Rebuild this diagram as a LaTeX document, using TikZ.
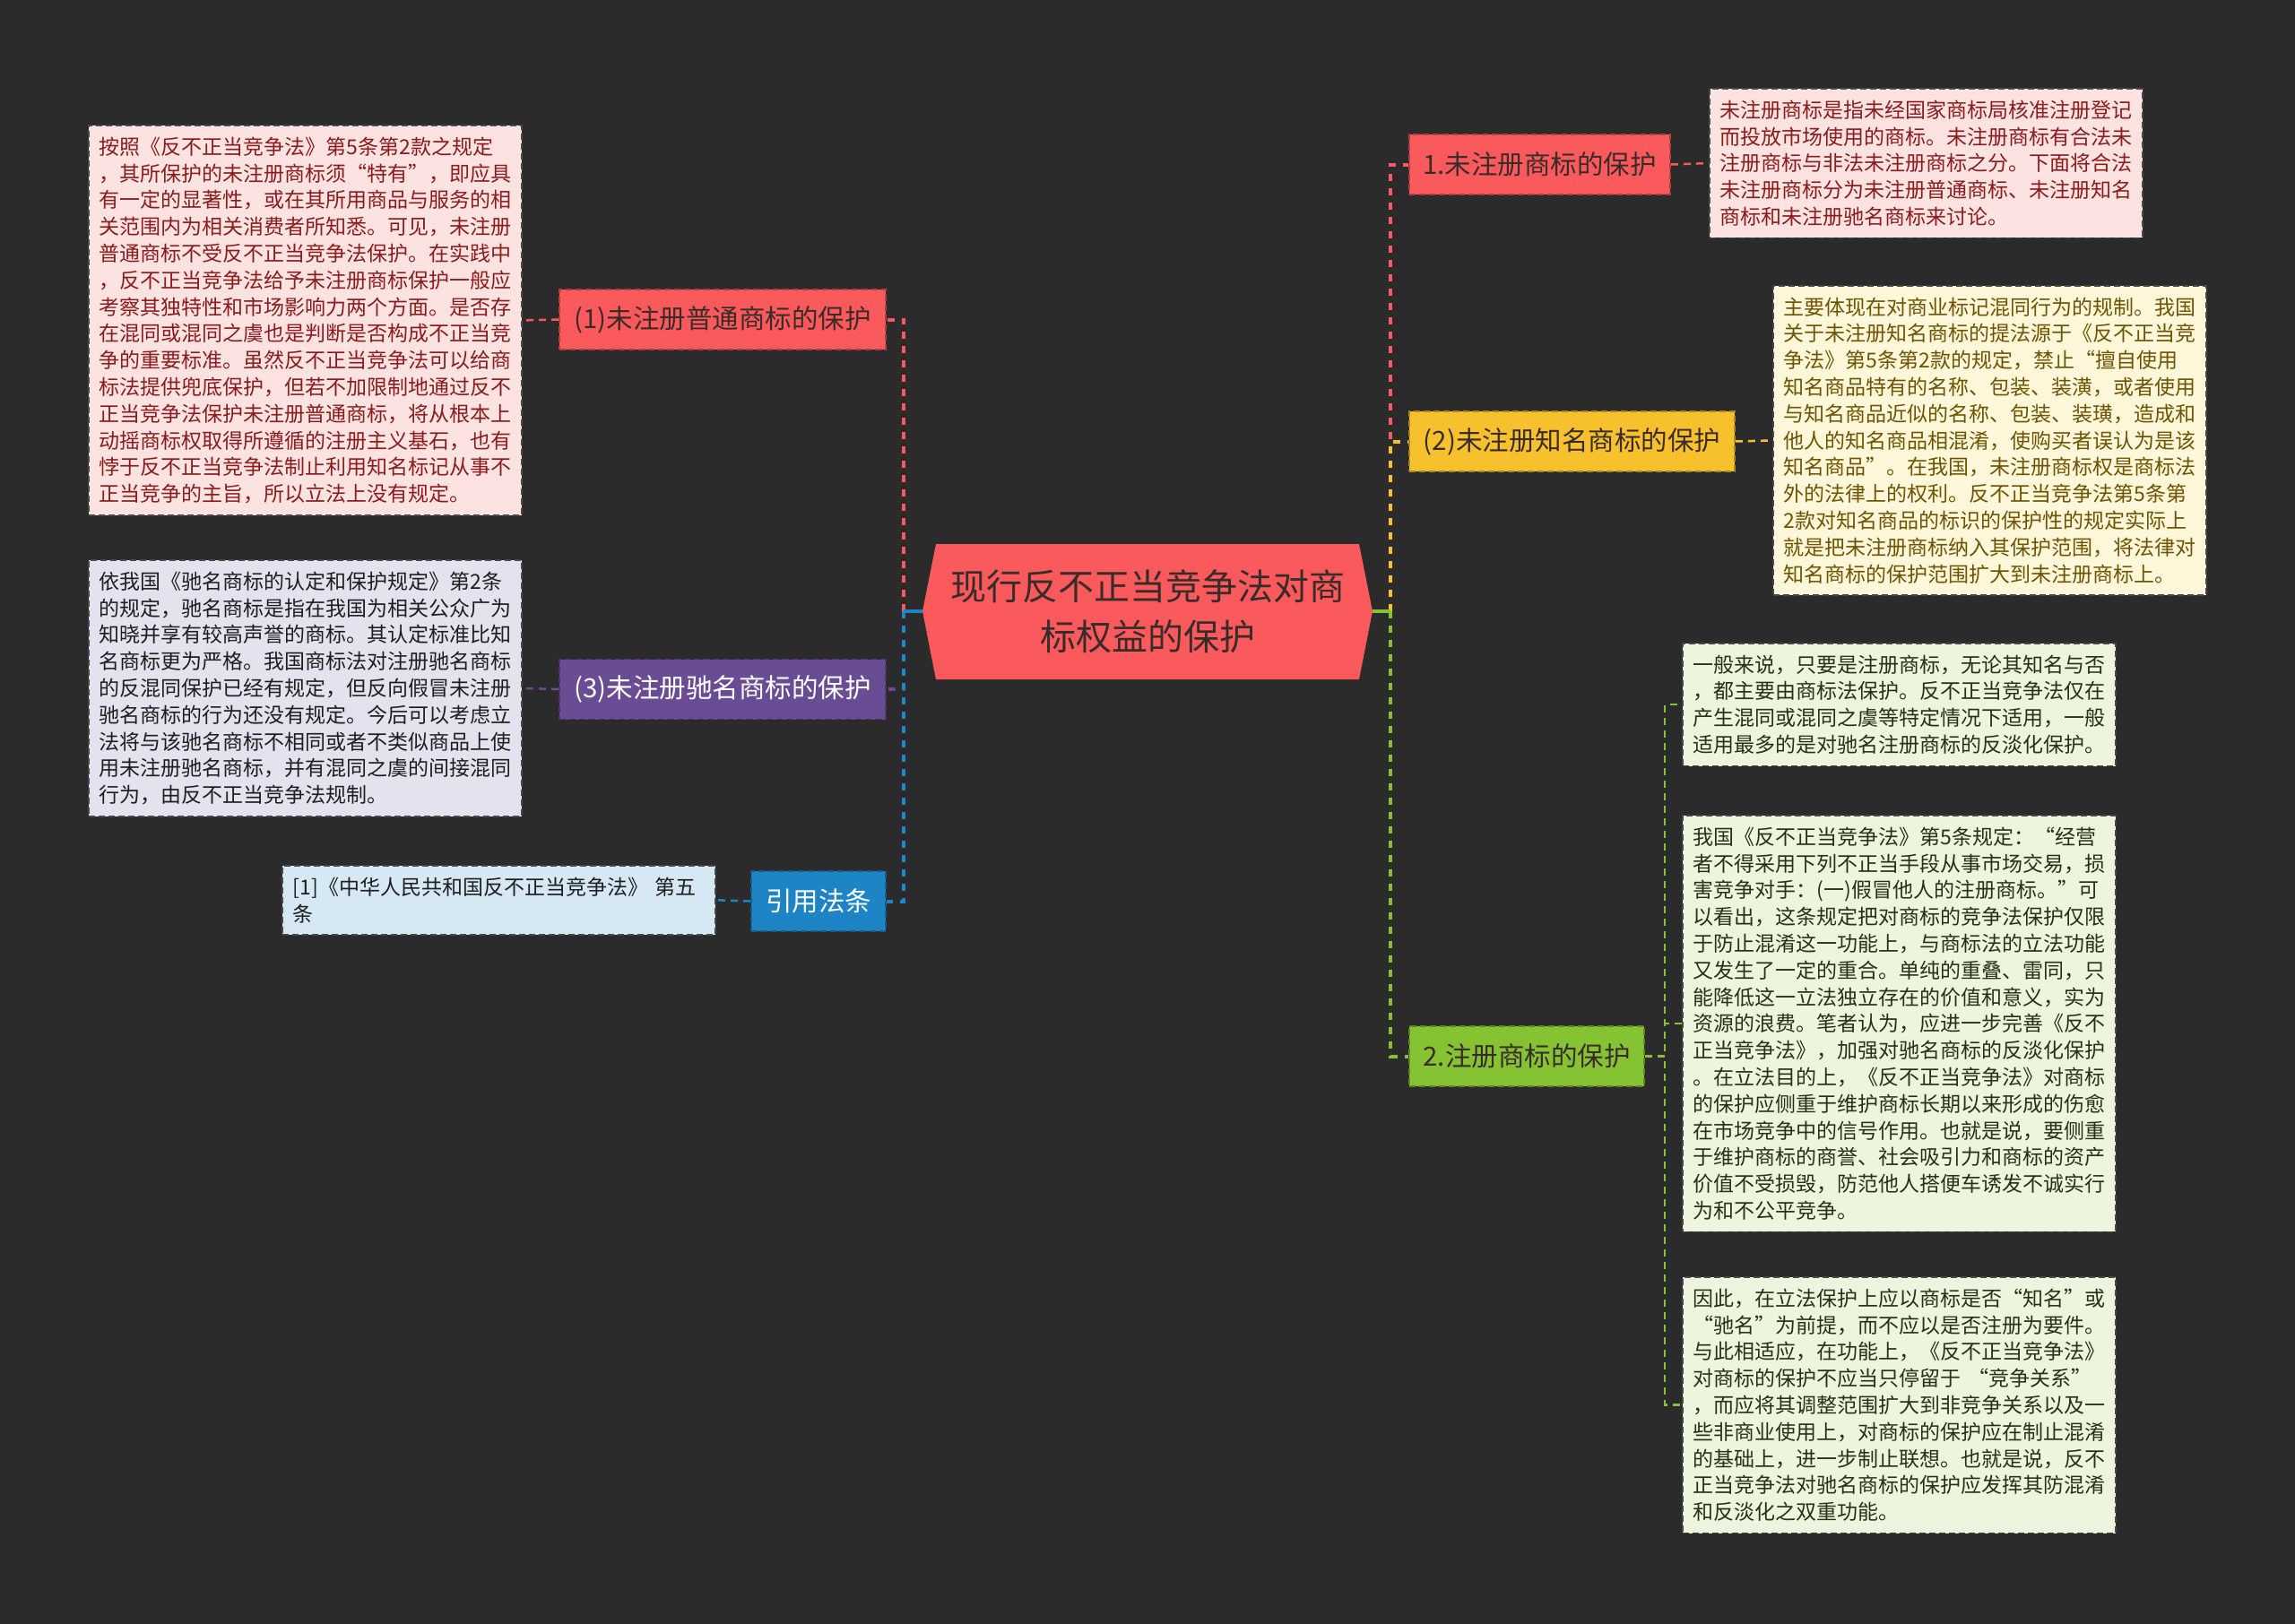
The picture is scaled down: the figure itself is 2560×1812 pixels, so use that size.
\documentclass[tikz,border=0pt]{standalone}
\usepackage{fontspec}
\setmainfont{Noto Sans CJK SC}
\definecolor{bg}{HTML}{2B2B2B}
\definecolor{cred}{HTML}{FA5A5C}
\definecolor{cyel}{HTML}{F7C12E}
\definecolor{cgrn}{HTML}{86C332}
\definecolor{cpur}{HTML}{6A4C95}
\definecolor{cblu}{HTML}{1D84C6}
\definecolor{fpink}{HTML}{FDE2E2}
\definecolor{tpink}{HTML}{8A1C1C}
\definecolor{fyel}{HTML}{FFF7DA}
\definecolor{tyel}{HTML}{6E5300}
\definecolor{fgrn}{HTML}{EEF5DE}
\definecolor{tgrn}{HTML}{26301A}
\definecolor{fpur}{HTML}{E5E1EE}
\definecolor{fblu}{HTML}{D5E8F4}
\definecolor{tdark}{HTML}{1E1E1E}
\definecolor{ttitle}{HTML}{3A2B2B}
\definecolor{descline}{HTML}{484848}
\begin{document}
\begin{tikzpicture}[x=1pt,y=-1pt,
  descbox/.style={anchor=north west, text width=459pt, inner xsep=12pt, inner ysep=13pt,
    align=left, draw=descline, dash pattern=on 7pt off 4pt, line width=1.5pt,
    font=\fontsize{23}{29.8}\selectfont},
  headbox/.style={minimum height=67pt, inner sep=0pt, align=center,
    font=\fontsize{29.5}{32}\selectfont, dash pattern=on 7pt off 4pt, line width=1.8pt},
  conn/.style={line width=4pt, dash pattern=on 8pt off 8pt},
  subconn/.style={line width=2.5pt, dash pattern=on 8pt off 6pt}]
\useasboundingbox (0,0) rectangle (2560,1812);
\fill[bg] (0,0) rectangle (2560,1812);

% root hexagon
\fill[cred] (1029,682) -- (1044,607) -- (1516,607) -- (1531,682) -- (1516,758) -- (1044,758) -- cycle;
\node[minimum width=502pt, minimum height=151pt, inner sep=0pt, align=center, text=ttitle,
  font=\fontsize{40}{56}\selectfont] (root) at (1280,682) {现行反不正当竞争法对商\\标权益的保护};

% right headings
\node[headbox, fill=cred, draw=cred!70!black, text=ttitle, minimum width=291pt] (n1) at (1717.5,183.5) {1.未注册商标的保护};
\node[headbox, fill=cyel, draw=cyel!70!black, text=ttitle, minimum width=363pt] (n2) at (1753.5,492.5) {(2)未注册知名商标的保护};
\node[headbox, fill=cgrn, draw=cgrn!70!black, text=ttitle, minimum width=262pt] (n3) at (1703,1178.5) {2.注册商标的保护};

% left headings
\node[headbox, fill=cred, draw=cred!70!black, text=ttitle, minimum width=364pt] (l1) at (806,356.5) {(1)未注册普通商标的保护};
\node[headbox, fill=cpur, draw=cpur!70!black, text=white, minimum width=364pt] (l3) at (806,769) {(3)未注册驰名商标的保护};
\node[headbox, fill=cblu, draw=cblu!70!black, text=white, minimum width=150pt] (l4) at (913,1005.5) {引用法条};

% left descriptions
\node[descbox, fill=fpink, text=tpink] (A) at (98,139) {按照《反不正当竞争法》第5条第2款之规定\\
，其所保护的未注册商标须“特有”，即应具\\
有一定的显著性，或在其所用商品与服务的相\\
关范围内为相关消费者所知悉。可见，未注册\\
普通商标不受反不正当竞争法保护。在实践中\\
，反不正当竞争法给予未注册商标保护一般应\\
考察其独特性和市场影响力两个方面。是否存\\
在混同或混同之虞也是判断是否构成不正当竞\\
争的重要标准。虽然反不正当竞争法可以给商\\
标法提供兜底保护，但若不加限制地通过反不\\
正当竞争法保护未注册普通商标，将从根本上\\
动摇商标权取得所遵循的注册主义基石，也有\\
悖于反不正当竞争法制止利用知名标记从事不\\
正当竞争的主旨，所以立法上没有规定。};

\node[descbox, fill=fpur, text=tdark] (B) at (98,624) {依我国《驰名商标的认定和保护规定》第2条\\
的规定，驰名商标是指在我国为相关公众广为\\
知晓并享有较高声誉的商标。其认定标准比知\\
名商标更为严格。我国商标法对注册驰名商标\\
的反混同保护已经有规定，但反向假冒未注册\\
驰名商标的行为还没有规定。今后可以考虑立\\
法将与该驰名商标不相同或者不类似商品上使\\
用未注册驰名商标，并有混同之虞的间接混同\\
行为，由反不正当竞争法规制。};

\node[descbox, fill=fblu, text=tdark] (C) at (314,965) {[1]《中华人民共和国反不正当竞争法》 第五\\
条};

% right descriptions
\node[descbox, fill=fpink, text=tpink] (D1) at (1906,98) {未注册商标是指未经国家商标局核准注册登记\\
而投放市场使用的商标。未注册商标有合法未\\
注册商标与非法未注册商标之分。下面将合法\\
未注册商标分为未注册普通商标、未注册知名\\
商标和未注册驰名商标来讨论。};

\node[descbox, fill=fyel, text=tyel] (D2) at (1977,318) {主要体现在对商业标记混同行为的规制。我国\\
关于未注册知名商标的提法源于《反不正当竞\\
争法》第5条第2款的规定，禁止“擅自使用\\
知名商品特有的名称、包装、装潢，或者使用\\
与知名商品近似的名称、包装、装璜，造成和\\
他人的知名商品相混淆，使购买者误认为是该\\
知名商品”。在我国，未注册商标权是商标法\\
外的法律上的权利。反不正当竞争法第5条第\\
2款对知名商品的标识的保护性的规定实际上\\
就是把未注册商标纳入其保护范围，将法律对\\
知名商标的保护范围扩大到未注册商标上。};

\node[descbox, fill=fgrn, text=tgrn] (G1) at (1876,717) {一般来说，只要是注册商标，无论其知名与否\\
，都主要由商标法保护。反不正当竞争法仅在\\
产生混同或混同之虞等特定情况下适用，一般\\
适用最多的是对驰名注册商标的反淡化保护。};

\node[descbox, fill=fgrn, text=tgrn] (G2) at (1876,909) {我国《反不正当竞争法》第5条规定：“经营\\
者不得采用下列不正当手段从事市场交易，损\\
害竞争对手：(一)假冒他人的注册商标。”可\\
以看出，这条规定把对商标的竞争法保护仅限\\
于防止混淆这一功能上，与商标法的立法功能\\
又发生了一定的重合。单纯的重叠、雷同，只\\
能降低这一立法独立存在的价值和意义，实为\\
资源的浪费。笔者认为，应进一步完善《反不\\
正当竞争法》，加强对驰名商标的反淡化保护\\
。在立法目的上，《反不正当竞争法》对商标\\
的保护应侧重于维护商标长期以来形成的伤愈\\
在市场竞争中的信号作用。也就是说，要侧重\\
于维护商标的商誉、社会吸引力和商标的资产\\
价值不受损毁，防范他人搭便车诱发不诚实行\\
为和不公平竞争。};

\node[descbox, fill=fgrn, text=tgrn] (G3) at (1876,1424) {因此，在立法保护上应以商标是否“知名”或\\
“驰名”为前提，而不应以是否注册为要件。\\
与此相适应，在功能上，《反不正当竞争法》\\
对商标的保护不应当只停留于 “竞争关系”\\
，而应将其调整范围扩大到非竞争关系以及一\\
些非商业使用上，对商标的保护应在制止混淆\\
的基础上，进一步制止联想。也就是说，反不\\
正当竞争法对驰名商标的保护应发挥其防混淆\\
和反淡化之双重功能。};

% junction coordinates
\coordinate (rj) at (1551,682);
\coordinate (lj) at (1008,682);
\coordinate (gj) at (1857,1178.5);

% root to headings
\draw[conn, cred] (rj) |- (n1.west);
\draw[conn, cyel] (rj) |- (n2.west);
\draw[conn, cgrn] (rj) |- (n3.west);
\draw[conn, cred] (lj) |- (l1.east);
\draw[conn, cpur] (lj) |- (l3.east);
\draw[conn, cblu] (lj) |- (l4.east);
\draw[line width=4pt, cgrn] (root.east) -- (rj);
\draw[line width=4pt, cblu] (root.west) -- (lj);

% headings to descriptions
\draw[subconn, cred] (l1.west) -- (A.east);
\draw[subconn, cpur] (l3.west) -- (B.east);
\draw[subconn, cblu] (l4.west) -- (C.east);
\draw[subconn, cred] (n1.east) -- (D1.west);
\draw[subconn, cyel] (n2.east) -- (D2.west);
\draw[subconn, cgrn] (n3.east) -- (gj) |- (G1.west);
\draw[subconn, cgrn] (n3.east) -- (gj) |- (G2.west);
\draw[subconn, cgrn] (n3.east) -- (gj) |- (G3.west);
\end{tikzpicture}
\end{document}
